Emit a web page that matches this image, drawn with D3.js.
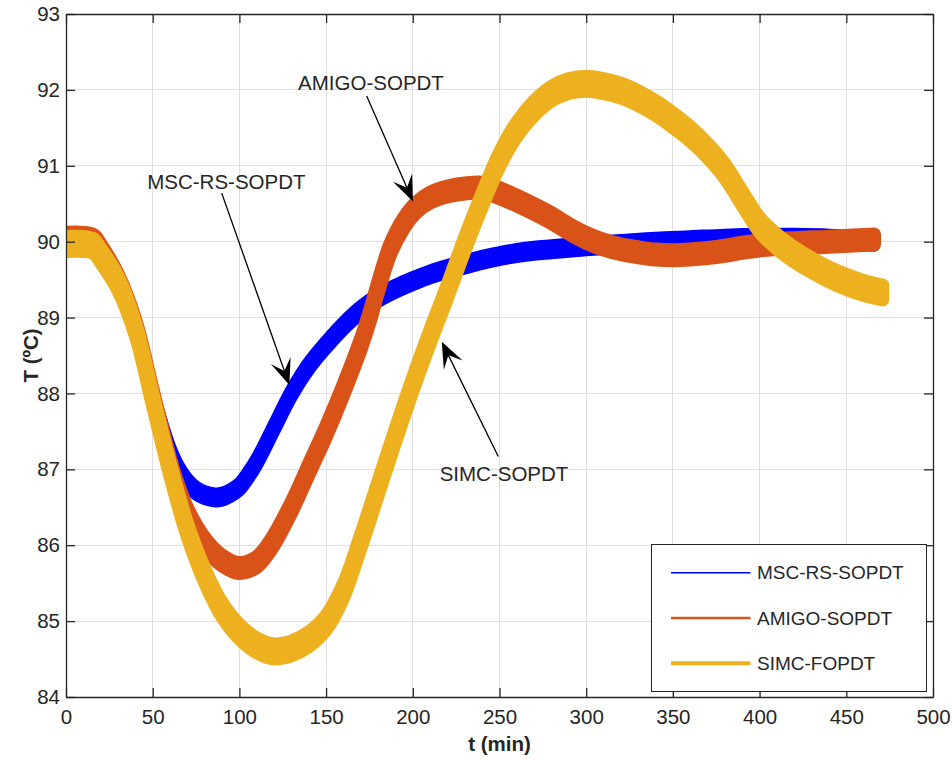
<!DOCTYPE html>
<html>
<head>
<script src="https://d3js.org/d3.v7.min.js"></script>
<style>
  body { margin: 0; background: #fff; }
  text { font-family: "Liberation Sans", Arial, sans-serif; fill: #262626; }
</style>
</head>
<body>
<div id="chart"></div>
<script>
// readings taken off the figure: time (min) and temperature (ºC)
var tMsc = [0, 10, 16, 20, 30, 40, 50, 55, 60, 65, 70, 75, 80, 86, 90, 95, 100, 105, 110, 120, 130, 140, 150, 160, 170, 180, 190, 200, 210, 220, 230, 240, 250, 260, 270, 280, 290, 300, 320, 340, 360, 380, 400, 420, 440, 455, 466];
var yMsc = [90.05, 90.05, 90.02, 89.9, 89.5, 88.9, 88.0, 87.6, 87.25, 87.0, 86.83, 86.72, 86.66, 86.63, 86.64, 86.69, 86.77, 86.92, 87.1, 87.55, 88.0, 88.36, 88.64, 88.89, 89.1, 89.26, 89.38, 89.48, 89.57, 89.64, 89.7, 89.76, 89.81, 89.85, 89.88, 89.9, 89.92, 89.94, 89.97, 90.0, 90.02, 90.04, 90.05, 90.05, 90.04, 90.02, 90.0];

var tAmigo = [0, 10, 16, 20, 30, 40, 50, 60, 64, 70, 80, 90, 100, 110, 118, 130, 140, 150, 160, 170, 175, 180, 187, 195, 202, 210, 220, 230, 240, 250, 260, 270, 280, 290, 300, 310, 320, 330, 340, 350, 360, 370, 380, 390, 400, 420, 440, 466];
var yAmigo = [90.05, 90.05, 90.02, 89.9, 89.5, 88.9, 87.98, 87.08, 86.78, 86.42, 86.03, 85.8, 85.7, 85.78, 86.0, 86.5, 87.0, 87.5, 88.05, 88.65, 89.0, 89.4, 89.9, 90.25, 90.45, 90.58, 90.66, 90.7, 90.71, 90.64, 90.54, 90.43, 90.31, 90.17, 90.05, 89.96, 89.9, 89.86, 89.83, 89.82, 89.83, 89.85, 89.88, 89.92, 89.95, 89.98, 90.0, 90.03];

var tSimc = [0, 10, 16, 20, 30, 40, 50, 60, 70, 80, 90, 100, 110, 120, 130, 140, 150, 160, 170, 180, 190, 200, 210, 220, 230, 240, 250, 260, 270, 280, 290, 300, 310, 320, 330, 340, 350, 360, 370, 380, 390, 400, 410, 420, 430, 440, 450, 460, 471];
var ySimc = [89.97, 89.97, 89.94, 89.82, 89.45, 88.85, 87.92, 87.0, 86.2, 85.6, 85.15, 84.86, 84.68, 84.6, 84.64, 84.76, 84.98, 85.4, 86.05, 86.75, 87.45, 88.12, 88.75, 89.35, 89.97, 90.55, 91.08, 91.48, 91.76, 91.95, 92.05, 92.08, 92.05, 91.99, 91.89, 91.76, 91.6, 91.42, 91.2, 90.93, 90.57, 90.22, 90.0, 89.83, 89.69, 89.57, 89.47, 89.39, 89.33];

var seriesNames = ["MSC-RS-SOPDT", "AMIGO-SOPDT", "SIMC-FOPDT"];
var seriesColors = ["#0000ff", "#d95319", "#edb120"];
var xTicks = d3.range(0, 501, 50);
var yTicks = d3.range(84, 94, 1);

// annotation text + arrow (start -> tip), in data units
var notes = [
  {label: "MSC-RS-SOPDT", tx: 92.5, ty: 90.70, x1: 89.8, y1: 90.64, x2: 128.8, y2: 88.11},
  {label: "AMIGO-SOPDT", tx: 175.9, ty: 92.0, x1: 173.4, y1: 91.92, x2: 200.1, y2: 90.53},
  {label: "SIMC-SOPDT", tx: 252.6, ty: 86.84, x1: 249.3, y1: 87.17, x2: 216.7, y2: 88.68}
];

var W = 952, H = 760;
var pLeft = 66, pRight = 933, pTop = 14, pBottom = 697;

var x = d3.scaleLinear().domain([0, 500]).range([pLeft, pRight]);
var y = d3.scaleLinear().domain([84, 93]).range([pBottom, pTop]);

var svg = d3.select("#chart").append("svg")
    .attr("width", W)
    .attr("height", H);

svg.append("rect").attr("width", W).attr("height", H).attr("fill", "#fff");

svg.append("clipPath").attr("id", "plotclip")
  .append("rect")
    .attr("x", pLeft).attr("y", pTop)
    .attr("width", pRight - pLeft).attr("height", pBottom - pTop);

// grid
var grid = svg.append("g").attr("stroke", "#dfdfdf").attr("stroke-width", 1).attr("shape-rendering", "crispEdges");
grid.selectAll(".gx").data(xTicks.slice(1, -1)).enter().append("line")
    .attr("x1", d => x(d)).attr("x2", d => x(d))
    .attr("y1", pTop).attr("y2", pBottom);
grid.selectAll(".gy").data(yTicks.slice(1, -1)).enter().append("line")
    .attr("x1", pLeft).attr("x2", pRight)
    .attr("y1", d => y(d)).attr("y2", d => y(d));

// noisy measurement bands: vertical spread (px) + stroke width (px)
var bandSpread = [8, 10, 15];
var bandStroke = [12, 14, 13];
var series = [
  {t: tMsc, v: yMsc},
  {t: tAmigo, v: yAmigo},
  {t: tSimc, v: ySimc}
];

var plot = svg.append("g").attr("clip-path", "url(#plotclip)");
series.forEach(function(s, i) {
  var pts = s.t.map(function(t, j) { return [t, s.v[j]]; });
  var area = d3.area()
      .curve(d3.curveCatmullRom.alpha(0.5))
      .x(d => x(d[0]))
      .y0(d => y(d[1]) + bandSpread[i] / 2)
      .y1(d => y(d[1]) - bandSpread[i] / 2);
  plot.append("path")
      .datum(pts)
      .attr("d", area)
      .attr("fill", seriesColors[i])
      .attr("stroke", seriesColors[i])
      .attr("stroke-width", bandStroke[i])
      .attr("stroke-linejoin", "round");
});

// axes, ticks pointing inwards on all four sides
var fs = "20.5px";
var axB = svg.append("g").attr("transform", "translate(0," + pBottom + ")")
    .call(d3.axisBottom(x).tickValues(xTicks).tickSizeInner(-9).tickSizeOuter(0).tickPadding(12));
var axL = svg.append("g").attr("transform", "translate(" + pLeft + ",0)")
    .call(d3.axisLeft(y).tickValues(yTicks).tickSizeInner(-9).tickSizeOuter(0).tickPadding(6));
var axT = svg.append("g").attr("transform", "translate(0," + pTop + ")")
    .call(d3.axisTop(x).tickValues(xTicks).tickSizeInner(-9).tickSizeOuter(0).tickFormat(""));
var axR = svg.append("g").attr("transform", "translate(" + pRight + ",0)")
    .call(d3.axisRight(y).tickValues(yTicks).tickSizeInner(-9).tickSizeOuter(0).tickFormat(""));

[axB, axL, axT, axR].forEach(function(a) {
  a.selectAll("path").attr("stroke", "#262626").attr("stroke-width", 1.3);
  a.selectAll("line").attr("stroke", "#262626").attr("stroke-width", 1.3);
  a.selectAll("text").attr("fill", "#262626").style("font-size", fs)
    .style("font-family", "'Liberation Sans', Arial, sans-serif");
});

// axis titles
svg.append("text")
    .attr("x", (pLeft + pRight) / 2).attr("y", 751)
    .attr("text-anchor", "middle")
    .style("font-size", fs).style("font-weight", "bold")
    .text("t (min)");
svg.append("text")
    .attr("transform", "translate(38," + (pTop + pBottom) / 2 + ") rotate(-90)")
    .attr("text-anchor", "middle")
    .style("font-size", fs).style("font-weight", "bold")
    .text("T (ºC)");

// annotations
function arrowHead(px, py, ang) {
  var L = 26, hw = 10.5, N = 15;
  var c = Math.cos(ang), s = Math.sin(ang);
  function p(a, b) { return [px + a * c - b * s, py + a * s + b * c]; }
  return [p(0, 0), p(-L, hw), p(-N, 0), p(-L, -hw)];
}
var ann = svg.append("g");
notes.forEach(function(n) {
  ann.append("text")
      .attr("x", x(n.tx)).attr("y", y(n.ty))
      .attr("text-anchor", "middle")
      .style("font-size", fs).attr("fill", "#000")
      .text(n.label);
  var sx = x(n.x1), sy = y(n.y1), ex = x(n.x2), ey = y(n.y2);
  var ang = Math.atan2(ey - sy, ex - sx);
  ann.append("line")
      .attr("x1", sx).attr("y1", sy)
      .attr("x2", ex - 12 * Math.cos(ang)).attr("y2", ey - 12 * Math.sin(ang))
      .attr("stroke", "#000").attr("stroke-width", 1.3);
  ann.append("path")
      .attr("d", "M" + arrowHead(ex, ey, ang).join("L") + "Z")
      .attr("fill", "#000");
});

// legend
var lg = svg.append("g");
lg.append("rect")
    .attr("x", 651.5).attr("y", 544.5).attr("width", 275).attr("height", 147)
    .attr("fill", "#fff").attr("stroke", "#262626").attr("stroke-width", 1);
var legendWidths = [1.6, 2.6, 4];
seriesNames.forEach(function(name, i) {
  var ry = 572.7 + i * 45.3;
  lg.append("line")
      .attr("x1", 671).attr("x2", 750.5)
      .attr("y1", ry).attr("y2", ry)
      .attr("stroke", seriesColors[i]).attr("stroke-width", legendWidths[i]);
  lg.append("text")
      .attr("x", 757).attr("y", ry).attr("dy", "0.35em")
      .style("font-size", "19px").attr("fill", "#000")
      .text(name);
});
</script>
</body>
</html>
